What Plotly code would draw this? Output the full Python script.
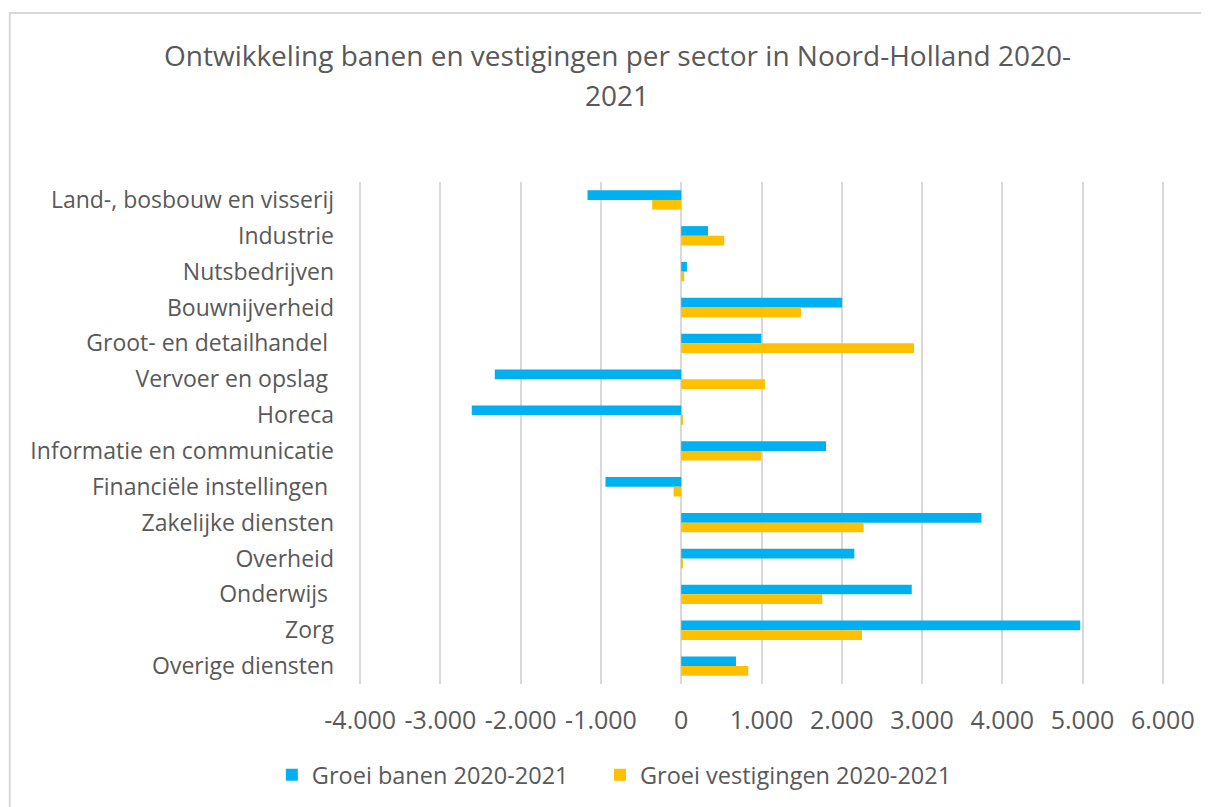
import plotly.graph_objects as go

categories = [
    "Land-, bosbouw en visserij", "Industrie", "Nutsbedrijven", "Bouwnijverheid",
    "Groot- en detailhandel ", "Vervoer en opslag ", "Horeca", "Informatie en communicatie",
    "Financiële instellingen ", "Zakelijke diensten", "Overheid", "Onderwijs ", "Zorg",
    "Overige diensten",
]
groei_banen = [-1168, 333, 71, 2005, 998, -2323, -2610, 1804, -944, 3741, 2157, 2872, 4971, 682]
groei_vestigingen = [-362, 536, 37, 1492, 2901, 1043, 20, 997, -96, 2273, 10, 1758, 2253, 835]
x_ticks = [-4000, -3000, -2000, -1000, 0, 1000, 2000, 3000, 4000, 5000, 6000]
x_tick_labels = ["-4.000", "-3.000", "-2.000", "-1.000", "0", "1.000", "2.000", "3.000", "4.000", "5.000", "6.000"]
title_lines = ["Ontwikkeling banen en vestigingen per sector in Noord-Holland 2020-", "2021"]

FONT = "Open Sans"
GREY = "#595959"
OFF = 8  # page body margin

fig = go.Figure()
fig.add_trace(go.Bar(y=categories, x=groei_banen, orientation="h", name="Groei banen 2020-2021",
                     marker=dict(color="#00B0F0", line=dict(width=0)), legend="legend"))
fig.add_trace(go.Bar(y=categories, x=groei_vestigingen, orientation="h", name="Groei vestigingen 2020-2021",
                     marker=dict(color="#FFC000", line=dict(width=0)), legend="legend2"))

W, H = 1201, 799
PAD = 15  # small range padding so the outer gridlines are drawn
# plot area in reference (page) pixels
PX0, PX1, PY0, PY1 = 360.3 - 1.2, 1162.5 + 1.2, 182, 684
L, T = PX0 - OFF, PY0 - OFF
R, B = W - (PX1 - OFF), H - (PY1 - OFF)
pw, ph = W - L - R, H - T - B

def px(x):
    return (x - OFF - L) / pw

def py(y):
    return (H - B - (y - OFF)) / ph

annotations = [
    dict(text=title_lines[0], x=px(617), y=py(55), xref="paper", yref="paper",
         xanchor="center", yanchor="middle", showarrow=False,
         font=dict(family=FONT, size=28, color=GREY)),
    dict(text=title_lines[1], x=px(617), y=py(95), xref="paper", yref="paper",
         xanchor="center", yanchor="middle", showarrow=False,
         font=dict(family=FONT, size=28, color=GREY)),
]

legend_style = dict(orientation="h", xanchor="left", yanchor="middle", y=py(775),
                    font=dict(family=FONT, size=23.5, color=GREY), itemwidth=30,
                    bgcolor="rgba(0,0,0,0)")

fig.update_layout(
    width=W, height=H,
    margin=dict(l=L, r=R, t=T, b=B, autoexpand=False),
    paper_bgcolor="white", plot_bgcolor="white",
    font=dict(family=FONT, color=GREY, size=23),
    annotations=annotations,
    barmode="group", bargap=0.46, bargroupgap=0,
    showlegend=True,
    legend=dict(x=px(272), **legend_style),
    legend2=dict(x=px(600), **legend_style),
    xaxis=dict(range=[x_ticks[0] - PAD, x_ticks[-1] + PAD], tickvals=x_ticks, ticktext=x_tick_labels,
               showgrid=True, gridcolor="#D9D9D9", gridwidth=2, zeroline=False,
               showline=False, ticks="", ticklabelstandoff=19,
               tickfont=dict(family=FONT, size=25, color=GREY), fixedrange=True),
    yaxis=dict(autorange="reversed", showgrid=False, zeroline=False, showline=False, ticks="",
               ticklabelstandoff=24, tickfont=dict(family=FONT, size=23, color=GREY)),
    shapes=[dict(type="rect", xref="paper", yref="paper",
                 x0=px(10), x1=px(1240), y0=py(840), y1=py(13),
                 line=dict(color="#D9D9D9", width=2), fillcolor="rgba(0,0,0,0)", layer="below")],
)

fig.write_html("out.html")
